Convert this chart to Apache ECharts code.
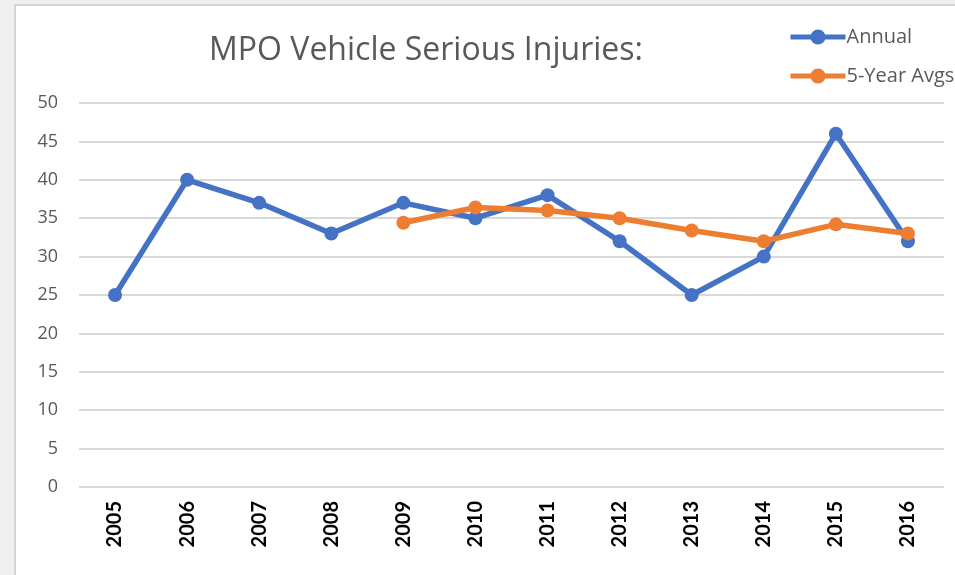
<!DOCTYPE html>
<html>
<head>
<meta charset="utf-8">
<script src="https://cdn.jsdelivr.net/npm/echarts@6/dist/echarts.min.js"></script>
<style>
  html, body { margin: 0; padding: 0; background: #efefef; overflow: hidden; }
  #panel { position: absolute; left: 14px; top: 4px; width: 960px; height: 600px; background: #fff; border-left: 2px solid #d4d4d4; border-top: 2px solid #d4d4d4; }
  #chart { position: absolute; left: 0; top: 0; width: 955px; height: 575px; }
</style>
</head>
<body>
<div id="panel"></div>
<div id="chart"></div>
<script>
const years = ['2005', '2006', '2007', '2008', '2009', '2010', '2011', '2012', '2013', '2014', '2015', '2016'];
const annual = [25, 40, 37, 33, 37, 35, 38, 32, 25, 30, 46, 32];
const fiveYearAvg = [null, null, null, null, 34.4, 36.4, 36, 35, 33.4, 32, 34.2, 33];

const chart = echarts.init(document.getElementById('chart'));

chart.setOption({
  animation: false,
  title: {
    text: 'MPO Vehicle Serious Injuries:',
    left: 421, top: 30, textAlign: 'center',
    textStyle: { fontFamily: 'Open Sans', fontSize: 32, fontWeight: 'normal', color: '#595959' }
  },
  legend: {
    orient: 'vertical', left: 783, top: 22, itemWidth: 55, itemHeight: 19, itemGap: 19,
    itemStyle: { borderWidth: 0 },
    lineStyle: { width: 5 },
    textStyle: { fontFamily: 'Open Sans', fontSize: 20, color: '#595959', padding: [0, 0, 0, -4] },
    data: ['Annual', '5-Year Avgs']
  },
  grid: { left: 79, right: 11, top: 103, bottom: 88 },
  xAxis: {
    type: 'category', data: years,
    axisLine: { show: false }, axisTick: { show: false },
    axisLabel: { rotate: 90, margin: 14, fontFamily: 'Lato', fontSize: 20, fontWeight: 'bold', color: '#000' }
  },
  yAxis: {
    type: 'value', min: 0, max: 50, interval: 5,
    axisLine: { show: false }, axisTick: { show: false },
    axisLabel: { margin: 21, fontFamily: 'Open Sans', fontSize: 18, color: '#595959' },
    splitLine: { lineStyle: { color: '#d9d9d9', width: 2 } }
  },
  series: [
    {
      name: 'Annual', type: 'line', data: annual,
      symbol: 'circle', symbolSize: 14,
      lineStyle: { color: '#4472c4', width: 5.5 },
      itemStyle: { color: '#4472c4' }
    },
    {
      name: '5-Year Avgs', type: 'line', data: fiveYearAvg,
      symbol: 'circle', symbolSize: 14,
      lineStyle: { color: '#ed7d31', width: 5.5 },
      itemStyle: { color: '#ed7d31' }
    }
  ]
});
</script>
</body>
</html>
